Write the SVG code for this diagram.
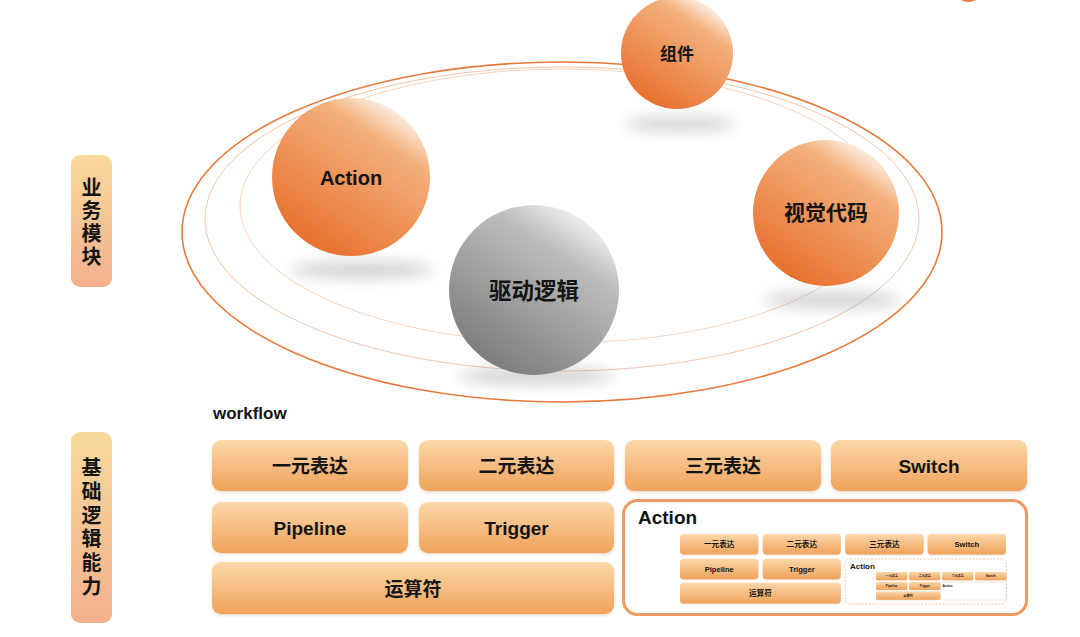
<svg xmlns="http://www.w3.org/2000/svg" xmlns:xlink="http://www.w3.org/1999/xlink" width="1080" height="637" viewBox="0 0 1080 637">
<style>
.cjk{font-family:"Liberation Sans","Noto Sans CJK SC",sans-serif;fill:#141414}
.lat{font-family:"Liberation Sans","Noto Sans CJK SC",sans-serif;fill:#141414}
.side{font-size:20px;font-weight:700;text-anchor:middle;dominant-baseline:central}
.bx{fill:url(#boxG);filter:url(#bsh)}
.bt{font-size:19px;text-anchor:middle;dominant-baseline:central;font-weight:600}
.sp{text-anchor:middle;dominant-baseline:central;font-weight:700}
.orb{fill:none}
</style>
<defs>
<linearGradient id="orG" x1="0.82" y1="0.08" x2="0.25" y2="0.95">
<stop offset="0" stop-color="#fdf3ea"/>
<stop offset="0.22" stop-color="#f3b07c"/>
<stop offset="1" stop-color="#e8702e"/>
</linearGradient>
<linearGradient id="grG" x1="0.82" y1="0.08" x2="0.25" y2="0.95">
<stop offset="0" stop-color="#f2f2f2"/>
<stop offset="0.25" stop-color="#bdbdbd"/>
<stop offset="1" stop-color="#7c7c7c"/>
</linearGradient>
<linearGradient id="sideG" x1="0" y1="0" x2="0" y2="1">
<stop offset="0" stop-color="#f8d99c"/>
<stop offset="1" stop-color="#f3b18d"/>
</linearGradient>
<linearGradient id="boxG" x1="0" y1="0" x2="0" y2="1">
<stop offset="0" stop-color="#fbd8aa"/>
<stop offset="1" stop-color="#f0a25a"/>
</linearGradient>
<filter id="blur" x="-50%" y="-200%" width="200%" height="500%"><feGaussianBlur stdDeviation="7"/></filter>
<filter id="bsh" x="-10%" y="-20%" width="120%" height="150%"><feDropShadow dx="0" dy="1.5" stdDeviation="1.5" flood-color="#b06020" flood-opacity="0.25"/></filter>
</defs>
<rect width="1080" height="637" fill="#ffffff"/>
<path d="M961 0 Q968 4 976 0 Z" fill="#e8793a"/>

<g id="orbits">
<ellipse class="orb" cx="562" cy="232" rx="380" ry="170" stroke="#e8793a" stroke-width="1.6"/>
<ellipse class="orb" cx="562" cy="219" rx="357" ry="152" stroke="#f3c4a2" stroke-width="1"/>
<ellipse class="orb" cx="562" cy="206" rx="322" ry="137" stroke="#f6d3ba" stroke-width="1"/>
</g>

<g id="shadows" filter="url(#blur)" fill="#9a9a9a" opacity="0.45">
<ellipse cx="680" cy="124" rx="55" ry="7"/>
<ellipse cx="362" cy="270" rx="72" ry="8"/>
<ellipse cx="832" cy="300" rx="68" ry="8"/>
<ellipse cx="536" cy="376" rx="78" ry="8"/>
</g>

<g id="node-zujian">
<circle cx="677" cy="53" r="56" fill="url(#orG)"/>
<text class="cjk sp" x="677" y="54" font-size="17">组件</text>
</g>
<g id="node-action">
<circle cx="351" cy="177" r="79" fill="url(#orG)"/>
<text class="lat sp" x="351" y="178" font-size="20">Action</text>
</g>
<g id="node-visual">
<circle cx="826" cy="213" r="73" fill="url(#orG)"/>
<text class="cjk sp" x="826" y="212" font-size="21">视觉代码</text>
</g>
<g id="node-drive">
<circle cx="534" cy="290" r="85" fill="url(#grG)"/>
<text class="cjk sp" x="534" y="291" font-size="22.5">驱动逻辑</text>
</g>

<g id="label-business">
<rect x="71" y="155" width="41" height="132" rx="9" fill="url(#sideG)"/>
<text class="cjk side" x="91.5" y="188">业</text>
<text class="cjk side" x="91.5" y="211">务</text>
<text class="cjk side" x="91.5" y="234">模</text>
<text class="cjk side" x="91.5" y="257">块</text>
</g>
<g id="label-basic">
<rect x="71" y="432" width="41" height="191" rx="9" fill="url(#sideG)"/>
<text class="cjk side" x="91.5" y="468">基</text>
<text class="cjk side" x="91.5" y="492">础</text>
<text class="cjk side" x="91.5" y="516">逻</text>
<text class="cjk side" x="91.5" y="539">辑</text>
<text class="cjk side" x="91.5" y="563">能</text>
<text class="cjk side" x="91.5" y="587">力</text>
</g>

<text id="workflow-label" class="lat" x="213" y="419" font-size="17" font-weight="700">workflow</text>

<g id="grid0">
<g id="box-unary"><rect class="bx" x="212" y="440" width="196" height="51" rx="9"/><text class="cjk bt" x="310" y="466">一元表达</text></g>
<g id="box-binary"><rect class="bx" x="419" y="440" width="195" height="51" rx="9"/><text class="cjk bt" x="516.5" y="466">二元表达</text></g>
<g id="box-ternary"><rect class="bx" x="625" y="440" width="196" height="51" rx="9"/><text class="cjk bt" x="723" y="466">三元表达</text></g>
<g id="box-switch"><rect class="bx" x="831" y="440" width="196" height="51" rx="9"/><text class="lat bt" x="929" y="466" font-weight="700">Switch</text></g>
<g id="box-pipeline"><rect class="bx" x="212" y="502" width="196" height="51" rx="9"/><text class="lat bt" x="310" y="528" font-weight="700">Pipeline</text></g>
<g id="box-trigger"><rect class="bx" x="419" y="502" width="195" height="51" rx="9"/><text class="lat bt" x="516.5" y="528" font-weight="700">Trigger</text></g>
<g id="box-operator"><rect class="bx" x="212" y="562" width="402" height="52" rx="9"/><text class="cjk bt" x="413" y="589">运算符</text></g>
</g>

<g id="action-frame">
<rect x="623.5" y="500.5" width="403" height="114" rx="14" fill="#ffffff" stroke="#ec9a62" stroke-width="3"/>
<text class="lat" x="638" y="524" font-size="19" font-weight="700">Action</text>
<g id="action-level1">
<rect x="845" y="559" width="161.5" height="45" rx="5" fill="#ffffff" stroke="#efc6a6" stroke-width="1" stroke-dasharray="2 1.5"/>
<text class="lat" x="850" y="569" font-size="8" font-weight="700">Action</text>
<use xlink:href="#grid0" href="#grid0" transform="translate(680 534) scale(0.4) translate(-212 -440)"/>
<g id="action-level2">
<rect x="940.5" y="582" width="65.5" height="18" rx="2" fill="#ffffff" stroke="#f3dccb" stroke-width="0.6"/>
<text class="lat" x="942.5" y="586.5" font-size="3.2" font-weight="700">Action</text>
<use xlink:href="#grid0" href="#grid0" transform="translate(876 572) scale(0.16) translate(-212 -440)"/>
</g>
</g>
</g>
</svg>
